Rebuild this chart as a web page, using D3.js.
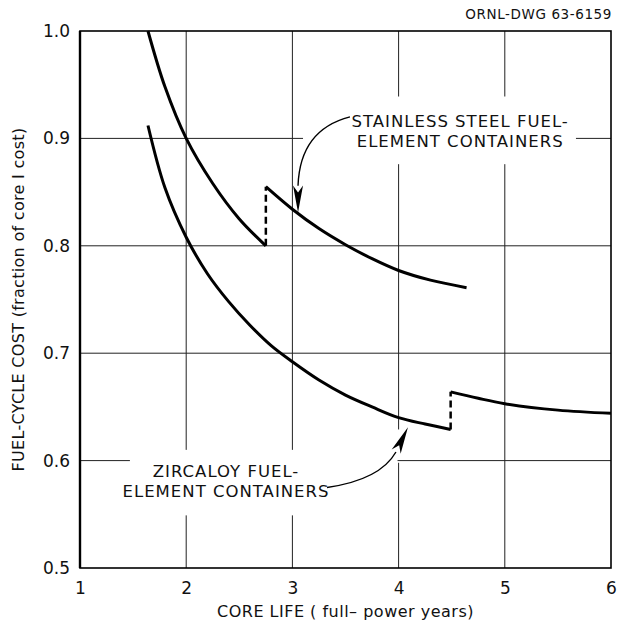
<!DOCTYPE html>
<html>
<head>
    <meta charset="utf-8">
    <title>Fuel-cycle cost vs core life</title>
    <script src="https://cdn.jsdelivr.net/npm/d3@7"></script>
    <style>
        body { margin: 0; background: #fff; }
        text { font-family: "DejaVu Sans", sans-serif; fill: #111; }
        .tick text { font-size: 17px; }
        .grid { stroke: #222; stroke-width: 1; fill: none; }
        .curve { stroke: #000; stroke-width: 3; fill: none; }
        .jump { stroke: #000; stroke-width: 2.5; stroke-dasharray: 7 4; fill: none; }
    </style>
</head>
<body>
    <svg id="svg" width="618" height="626"></svg>
    <script>
        // curves: [core life, fuel-cycle cost]
        var stainlessA = [[1.64, 1.0], [1.8, 0.948], [2.0, 0.90], [2.25, 0.858], [2.5, 0.825], [2.75, 0.80]];
        var stainlessB = [[2.75, 0.855], [3.0, 0.834], [3.25, 0.816], [3.5, 0.801], [3.75, 0.788], [4.0, 0.777], [4.3, 0.768], [4.64, 0.761]];
        var zircA = [[1.64, 0.912], [1.8, 0.854], [2.0, 0.808], [2.2, 0.774], [2.4, 0.748], [2.6, 0.726], [2.8, 0.707], [3.0, 0.692], [3.25, 0.675], [3.5, 0.661], [3.75, 0.650], [4.0, 0.640], [4.25, 0.634], [4.49, 0.629]];
        var zircB = [[4.49, 0.664], [4.75, 0.658], [5.0, 0.653], [5.5, 0.647], [6.0, 0.644]];

        var xTicks = [1, 2, 3, 4, 5, 6];
        var yTicks = [0.5, 0.6, 0.7, 0.8, 0.9, 1.0];

        // grid lines and the stretches left blank around the notes
        var vGrid = [{ v: 2, gaps: [[0.549, 0.61]] }, { v: 3, gaps: [[0.549, 0.61]] },
                     { v: 4, gaps: [[0.598, 0.629], [0.876, 0.939]] }, { v: 5, gaps: [[0.876, 0.939]] }];
        var hGrid = [{ v: 0.6, gaps: [[1.47, 3.99]] }, { v: 0.7, gaps: [] }, { v: 0.8, gaps: [] }, { v: 0.9, gaps: [[3.1, 5.67]] }];

        var notes = [
            { lines: ["STAINLESS STEEL FUEL-", "ELEMENT CONTAINERS"], at: [4.58, 0.9105],
              arrow: [[3.542, 0.920], [3.072, 0.908], [3.053, 0.856]], tip: [3.053, 0.831] },
            { lines: ["ZIRCALOY FUEL-", "ELEMENT CONTAINERS"], at: [2.375, 0.585],
              arrow: [[3.326, 0.575], [3.825, 0.582], [3.975, 0.608]], tip: [4.088, 0.631] }
        ];

        var svg = d3.select("#svg");
        var pLeft = 80, pRight = 611, pTop = 31, pBottom = 568;

        var x = d3.scaleLinear().domain([1, 6]).range([pLeft, pRight]);
        var y = d3.scaleLinear().domain([0.5, 1.0]).range([pBottom, pTop]);

        function split(lo, hi, gaps) {
            var out = [], s = lo;
            gaps.forEach(function (g) { out.push([s, g[0]]); s = g[1]; });
            out.push([s, hi]);
            return out;
        }

        var grid = svg.append("g");
        vGrid.forEach(function (g) {
            split(0.5, 1.0, g.gaps).forEach(function (p) {
                grid.append("line").attr("class", "grid")
                    .attr("x1", x(g.v)).attr("x2", x(g.v))
                    .attr("y1", y(p[0])).attr("y2", y(p[1]));
            });
        });
        hGrid.forEach(function (g) {
            split(1, 6, g.gaps).forEach(function (p) {
                grid.append("line").attr("class", "grid")
                    .attr("y1", y(g.v)).attr("y2", y(g.v))
                    .attr("x1", x(p[0])).attr("x2", x(p[1]));
            });
        });

        svg.append("rect")
            .attr("x", pLeft).attr("y", pTop)
            .attr("width", pRight - pLeft).attr("height", pBottom - pTop)
            .attr("fill", "none").attr("stroke", "#000").attr("stroke-width", 1.6);
        svg.append("line").attr("x1", pLeft).attr("x2", pLeft).attr("y1", pTop).attr("y2", pBottom)
            .attr("stroke", "#000").attr("stroke-width", 2.4);

        var xAxis = d3.axisBottom(x).tickValues(xTicks).tickSize(0).tickPadding(14).tickFormat(d3.format("d"));
        var yAxis = d3.axisLeft(y).tickValues(yTicks).tickSize(0).tickPadding(10).tickFormat(d3.format(".1f"));
        svg.append("g").attr("transform", "translate(0," + pBottom + ")").call(xAxis)
            .call(function (g) { g.select(".domain").remove(); });
        svg.append("g").attr("transform", "translate(" + pLeft + ",0)").call(yAxis)
            .call(function (g) { g.select(".domain").remove(); });

        var line = d3.line().x(function (d) { return x(d[0]); }).y(function (d) { return y(d[1]); })
            .curve(d3.curveCatmullRom.alpha(0.5));

        [stainlessA, stainlessB, zircA, zircB].forEach(function (s) {
            svg.append("path").attr("class", "curve").attr("d", line(s));
        });
        // jumps between the two core loadings
        [[stainlessA, stainlessB], [zircA, zircB]].forEach(function (p) {
            var a = p[0][p[0].length - 1], b = p[1][0];
            svg.append("line").attr("class", "jump")
                .attr("x1", x(a[0])).attr("x2", x(b[0]))
                .attr("y1", y(a[1])).attr("y2", y(b[1]));
        });

        notes.forEach(function (n) {
            var t = svg.append("text")
                .attr("x", x(n.at[0])).attr("y", y(n.at[1]))
                .attr("text-anchor", "middle")
                .style("font-size", "16.5px").style("letter-spacing", "1px");
            n.lines.forEach(function (s, i) {
                t.append("tspan").attr("x", x(n.at[0])).attr("dy", i ? "1.2em" : 0).text(s);
            });
            var p = n.arrow.map(function (d) { return [x(d[0]), y(d[1])]; });
            svg.append("path")
                .attr("d", "M" + p[0] + "Q" + p[1] + " " + p[2])
                .attr("fill", "none").attr("stroke", "#000").attr("stroke-width", 1.4);
            var tip = [x(n.tip[0]), y(n.tip[1])];
            var dx = tip[0] - p[2][0], dy = tip[1] - p[2][1];
            var len = Math.sqrt(dx * dx + dy * dy), ux = dx / len, uy = dy / len;
            var bx = tip[0] - ux * 27, by = tip[1] - uy * 27;
            svg.append("path")
                .attr("d", "M" + tip + "L" + [bx - uy * 5, by + ux * 5] + "L" + [bx + ux * 7, by + uy * 7] + "L" + [bx + uy * 5, by - ux * 5] + "Z")
                .attr("fill", "#000");
        });

        svg.append("text")
            .attr("x", 612).attr("y", 19).attr("text-anchor", "end")
            .style("font-size", "13.5px").style("letter-spacing", "0.6px")
            .text("ORNL-DWG 63-6159");

        svg.append("text")
            .attr("x", (pLeft + pRight) / 2).attr("y", 617).attr("text-anchor", "middle")
            .style("font-size", "16px").style("letter-spacing", "0.5px")
            .text("CORE LIFE ( full\u2013 power years)");

        svg.append("text")
            .attr("transform", "translate(24," + (pTop + pBottom) / 2 + ") rotate(-90)")
            .attr("text-anchor", "middle")
            .style("font-size", "16px").style("letter-spacing", "0.3px")
            .text("FUEL-CYCLE COST (fraction of core I cost)");
    </script>
</body>
</html>
